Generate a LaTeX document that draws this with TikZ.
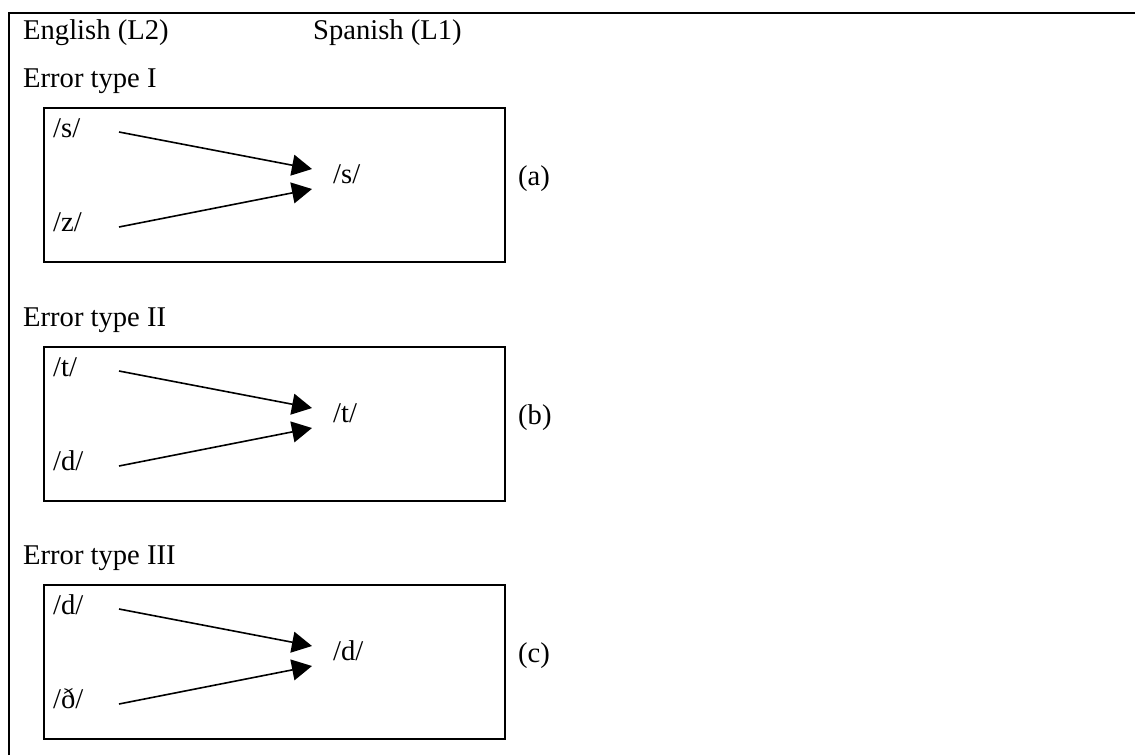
\documentclass[tikz,border=0pt]{standalone}
\usepackage{fontspec}
\setmainfont{Liberation Serif}
\usetikzlibrary{arrows.meta}
\newcommand\errpanel[8]{%
  \node[panel, anchor=north west] (box#2) at (43,#1) {};
  \node[txt] (src#2a) at (53,{#1+30}) {#4};
  \node[txt] (src#2b) at (53,{#1+124}) {#5};
  \node[txt] (tgt#2) at (333,{#1+76}) {#6};
  \node[txt] (lab#2) at (518,{#1+78}) {#7};
  \node[txt] (title#2) at (23,{#1-20}) {#8};
  \coordinate (s#2a) at (119,{#1+25});
  \coordinate (s#2b) at (119,{#1+120});
  \coordinate (e#2a) at (312,{#1+62});
  \coordinate (e#2b) at (312,{#1+82});
  \draw[conn] (s#2a) -- (e#2a);
  \draw[conn] (s#2b) -- (e#2b);
}
\begin{document}
\begin{tikzpicture}[x=1pt,y=-1pt,
  txt/.style={anchor=base west, inner sep=0pt, font=\fontsize{28.6}{34}\selectfont},
  panel/.style={draw, line width=1.5pt, minimum width=461pt, minimum height=154pt, inner sep=0pt},
  conn/.style={line width=1.6pt, -{Triangle[length=20pt,width=21pt]}},
  frame/.style={line width=2pt}]
\useasboundingbox (0,0) rectangle (1135,755);
\coordinate (fbl) at (9,755);
\coordinate (ftl) at (9,13);
\coordinate (ftr) at (1135,13);
\draw[frame] (fbl) -- (ftl) -- (ftr);
\node[txt] (eng) at (23,39) {English (L2)};
\node[txt] (spa) at (313,39) {Spanish (L1)};
\errpanel{107}{1}{}{/s/}{/z/}{/s/}{(a)}{Error type I}
\errpanel{346}{2}{}{/t/}{/d/}{/t/}{(b)}{Error type II}
\errpanel{584}{3}{}{/d/}{/ð/}{/d/}{(c)}{Error type III}
\end{tikzpicture}
\end{document}
